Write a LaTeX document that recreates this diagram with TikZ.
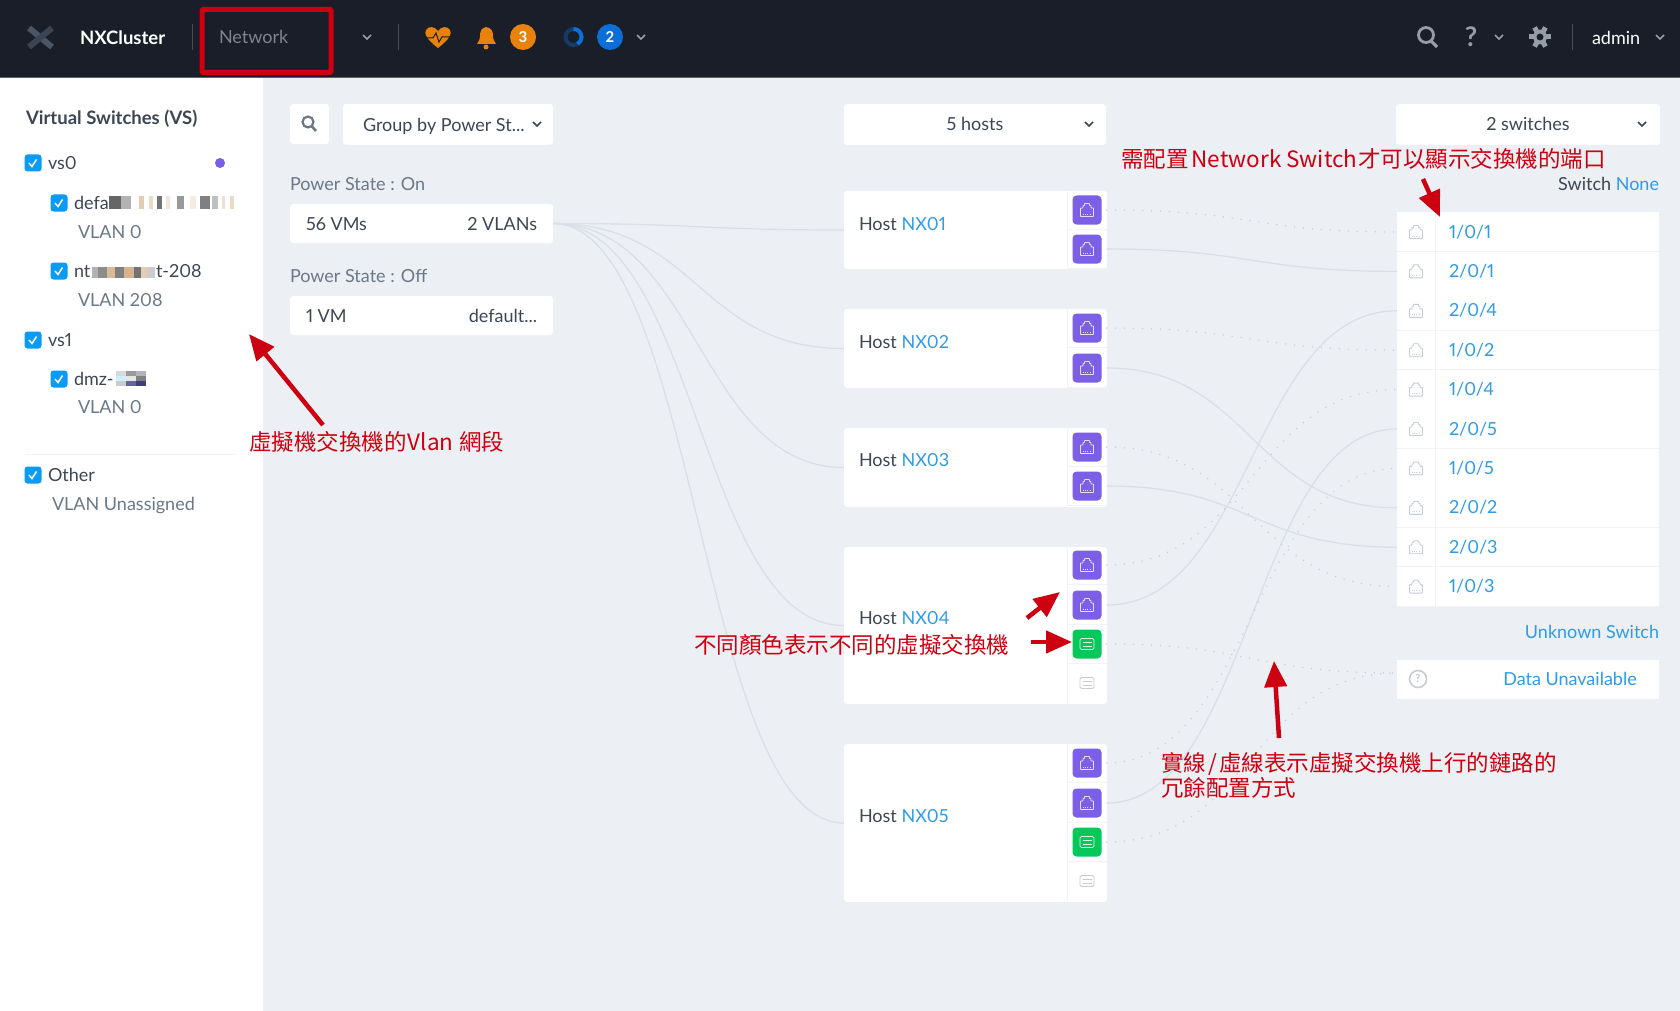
\documentclass[tikz,border=0pt]{standalone}
\usepackage{fontspec}
\usepackage{xcolor}
\setmainfont[Numbers=Proportional]{Lato}
\newfontfamily\cjkfont{Noto Sans CJK TC}
\usetikzlibrary{arrows.meta,calc}
\definecolor{barbg}{HTML}{1A1E29}
\definecolor{pagebg}{HTML}{ECEFF3}
\definecolor{txtdark}{HTML}{3D4654}
\definecolor{txtgrey}{HTML}{6B7888}
\definecolor{linkblue}{HTML}{2F9BE8}
\definecolor{boxblue}{HTML}{0A9BF5}
\definecolor{vspurple}{HTML}{7B5FE6}
\definecolor{vsgreen}{HTML}{05C85A}
\definecolor{noteRed}{HTML}{CC0010}
\definecolor{alertOrange}{HTML}{E8820C}
\definecolor{taskBlue}{HTML}{0A6FD8}
\definecolor{iconGrey}{HTML}{949DA8}
\definecolor{logoGrey}{HTML}{4A5566}
\definecolor{logoDark}{HTML}{3A4554}
\definecolor{linkGrey}{HTML}{DADEE6}
\definecolor{sepGrey}{HTML}{F1F3F6}
\definecolor{portGrey}{HTML}{C6CBD4}
\tikzset{
  lbl/.style={inner sep=0pt,outer sep=0pt,anchor=west,text height=14pt,text depth=2pt,
    font=\fontsize{18}{20}\selectfont,text=txtdark},
  lblgrey/.style={lbl,text=txtgrey},
  lblright/.style={lbl,anchor=east},
  panel/.style={fill=white,rounded corners=3pt,inner sep=0pt,outer sep=0pt},
  cell/.style={inner sep=0pt,outer sep=0pt,minimum width=39,minimum height=39},
  tile/.style={rounded corners=4pt,inner sep=0pt,outer sep=0pt,minimum width=29,minimum height=29},
  swrow/.style={fill=white,inner sep=0pt,outer sep=0pt,minimum width=262,minimum height=39.4},
  chkbox/.style={fill=boxblue,rounded corners=3pt,inner sep=0pt,minimum width=17,minimum height=17},
  sepline/.style={draw=sepGrey,line width=1pt},
  solidlink/.style={draw=linkGrey,line width=1.2pt},
  dotlink/.style={draw=portGrey,line width=1.5pt,line cap=round,dash pattern=on 0pt off 9pt},
  note/.style={inner sep=0pt,anchor=west,text=noteRed,align=left,
    font=\cjkfont\fontsize{22.5}{25}\selectfont},
  notearrow/.style={draw=noteRed,line width=4.5pt,-{Triangle[length=26pt,width=22pt]}}
}
\newcommand{\rjglyph}[3]{\draw[#3,line width=.9pt,rounded corners=.6pt] (#1,#2) ++(-6.5,6.5) -- ++(0,-8.5) -- ++(2.5,0) -- ++(0,-2.5) -- ++(1.5,0) -- ++(0,-2) -- ++(5,0) -- ++(0,2) -- ++(1.5,0) -- ++(0,2.5) -- ++(2.5,0) -- ++(0,8.5) -- cycle;
  \draw[#3,line width=.9pt,dash pattern=on 1pt off 1.2pt] (#1,#2) ++(-4,4) -- ++(8,0);}
\newcommand{\lineglyph}[3]{\draw[#3,line width=.9pt,rounded corners=1.5pt] (#1,#2) ++(-7,-5.5) rectangle ++(14,11);
  \draw[#3,line width=.9pt] (#1,#2) ++(-4.5,-2) -- ++(9,0) ++(-9,4) -- ++(9,0);}
\newcommand{\chevmark}[3]{\draw[#3,line width=1.5pt] (#1,#2) ++(-4,-2) -- ++(4,4) -- ++(4,-4);}
\begin{document}
\begin{tikzpicture}[x=1pt,y=-1pt]
  \useasboundingbox (0,0) rectangle (1680,1011);
  \fill[pagebg] (0,0) rectangle (1680,1011);
  \fill[white] (0,78) rectangle (263,1011);
  \fill[barbg] (0,0) rectangle (1680,77);
  \fill[black!60!pagebg] (0,77) rectangle (1680,78.5);

  \draw[line width=6pt,logoGrey] (29,28)--(52,47);
  \draw[line width=6pt,logoDark] (52,28)--(29,47);
  \node (brand) at (80,38.5) [lbl,text=white,font=\bfseries\fontsize{18.5}{20}\selectfont] {NXCluster};
  \draw[line width=1pt,white!20!barbg] (192,24)--(192,50);
  \node (netlbl) at (219,37.5) [lbl,text=iconGrey!85!black] {Network};
  \chevmark{367}{37}{iconGrey}
  \draw[line width=1pt,white!20!barbg] (398,24)--(398,50);
  \fill[alertOrange] (438,48) .. controls (426,39) and (424,33) .. (426,30) .. controls (428,26) and (435,26) .. (438,31) .. controls (441,26) and (448,26) .. (450,30) .. controls (452,33) and (450,39) .. (438,48);
  \draw[barbg,line width=1pt] (426,38)--(433,38)--(436,33)--(439,42)--(442,37)--(450,37);
  \fill[alertOrange] (486,27) .. controls (481,28) and (480,32) .. (480,36) .. controls (480,40) and (478,42) .. (477,44) -- (496,44) .. controls (495,42) and (493,40) .. (493,36) .. controls (493,32) and (492,28) .. (486,27);
  \fill[alertOrange] (486,47) circle (2.5);
  \node (alertnum) at (523,37) [circle,fill=alertOrange,minimum size=26,inner sep=0pt,text=white,font=\bfseries\fontsize{15}{18}\selectfont] {3};
  \draw[line width=4pt,taskBlue!35!barbg] (573.5,37) circle (8);
  \draw[line width=4pt,taskBlue] (573.5,29) arc (-90:60:8);
  \node (tasknum) at (610,37) [circle,fill=taskBlue,minimum size=26,inner sep=0pt,text=white,font=\bfseries\fontsize{15}{18}\selectfont] {2};
  \chevmark{641}{37}{iconGrey}
  \draw[iconGrey,line width=2.8pt] (1426,35) circle (7.5);
  \draw[iconGrey,line width=3.2pt] (1431,41)--(1437,47);
  \node (helpmark) at (1471,37) [iconGrey,font=\bfseries\fontsize{27}{27}\selectfont,inner sep=0pt] {?};
  \chevmark{1499}{37}{iconGrey}
  \foreach \a in {0,60,...,300} {\draw[iconGrey,line width=5pt] (1540,37) ++(\a:6)--++(\a:5);}
  \draw[iconGrey,line width=3.5pt] (1540,37) circle (5.5);
  \draw[line width=1pt,white!20!barbg] (1572,24)--(1572,50);
  \node (adminlbl) at (1592,38.5) [lbl,text=white] {admin};
  \chevmark{1660}{37}{iconGrey}
  \node (netmark) at (266.5,41) [draw=noteRed,line width=5pt,rounded corners=1pt,minimum width=129,minimum height=63,inner sep=0pt] {};

  \node (vstitle) at (26,119) [lbl,font=\bfseries\fontsize{18.5}{20}\selectfont] {Virtual Switches (VS)};
  \foreach \n/\x/\y in {vs0/33/163,def/59/203,ntm/59/271,vs1/33/340,dmz/59/379,oth/33/475} {
    \node (cb\n) at (\x,\y) [chkbox] {};
    \draw[white,line width=1.5pt] ($(cb\n)+(-4,0)$)--++(3,3.5)--++(4.5,-7);
  }
  \node (vs0lbl) at (48,164) [lbl] {vs0};
  \fill[vspurple] (220,163) circle (5);
  \node (deflbl) at (74,203) [lbl] {defa};
  \foreach \x/\w/\c in {109/12/black!60,121/10/black!30,139/5/brown!40,149/4/brown!30,157/5/black!55,166/4/brown!20,177/7/black!40,190/6/brown!15,200/10/black!50,212/6/black!25,222/3/brown!25,230/4/brown!30} {
    \fill[\c] (\x,196) rectangle ++(\w,13);
  }
  \node (vlandef) at (78,232) [lblgrey] {VLAN 0};
  \node (ntmlbl) at (74,271) [lbl] {nt};
  \foreach \x/\w/\c in {92/6/black!30,98/9/black!45,107/8/brown!55,115/9/black!50,124/10/brown!60,134/7/black!55,141/6/brown!40,147/8/black!20} {
    \fill[\c] (\x,267) rectangle ++(\w,11);
  }
  \node (ntmtail) at (156,271) [lbl] {t-208};
  \node (vlanntm) at (78,300) [lblgrey] {VLAN 208};
  \node (vs1lbl) at (48,340) [lbl] {vs1};
  \node (dmzlbl) at (74,379) [lbl] {dmz-};
  \foreach \x/\y/\c in {116/371/blue!10!black!15,126/371/black!40,136/371/blue!25!black!30,116/376/cyan!20,126/376/black!10,136/376/black!50,116/381/black!20,126/381/blue!30!black!60,136/381/blue!30!black!75} {
    \fill[\c] (\x,\y) rectangle ++(10,5);
  }
  \node (vlandmz) at (78,407) [lblgrey] {VLAN 0};
  \draw[sepline] (26,454)--(236,454);
  \node (othlbl) at (48,475) [lbl] {Other};
  \node (vlanoth) at (52,504) [lblgrey] {VLAN Unassigned};

  \node (srchbox) at (309.5,124) [panel,minimum width=39,minimum height=40] {};
  \draw[txtgrey,line width=2.2pt] (308,122) circle (5.5);
  \draw[txtgrey,line width=2.6pt] (312,126.5)--(316,131);
  \node (groupbox) at (448,124.5) [panel,minimum width=210,minimum height=41] {};
  \node (grouplbl) at (363,126) [lbl] {Group by Power St...};
  \chevmark{537}{124}{txtdark}
  \node (onlbl) at (290,184) [lblgrey] {Power State : On};
  \node (onbox) at (421.5,223.5) [panel,minimum width=263,minimum height=39] {};
  \node (vmsa) at (306,224) [lbl] {56 VMs};
  \node (vlana) at (537,224) [lblright] {2 VLANs};
  \node (offlbl) at (290,276) [lblgrey] {Power State : Off};
  \node (offbox) at (421.5,315.5) [panel,minimum width=263,minimum height=39] {};
  \node (vmsb) at (306,316) [lbl] {1 VM};
  \node (vlanb) at (537,316) [lblright] {default...};

  \node (hostsbox) at (975,124.5) [panel,minimum width=262,minimum height=41] {};
  \node (hostslbl) at (975,125) [lbl,anchor=center] {5 hosts};
  \chevmark{1089}{124}{txtdark}
  \node (swbox) at (1528,124.5) [panel,minimum width=264,minimum height=41] {};
  \node (swlbl) at (1528,125) [lbl,anchor=center] {2 switches};
  \chevmark{1642}{124}{txtdark}
  \node (swnone) at (1659,184) [lblright] {Switch \textcolor{linkblue}{None}};

  \foreach \n/\y/\h/\t in {1/230/78/224,2/348.5/79/342,3/467.5/79/460,4/625.5/157/618,5/823/158/816} {
    \node (h\n) at (975.5,\y) [panel,minimum width=263,minimum height=\h] {};
    \node (h\n lbl) at (859,\t) [lbl] {Host \textcolor{linkblue}{NX0\n}};
  }
  \foreach \n/\y in {h1a/210,h1b/249,h2a/328,h2b/368,h3a/447,h3b/486,h4a/565,h4b/605,h5a/763,h5b/803} {
    \node (\n) at (1087,\y) [cell] {};
    \draw[sepline] (\n.north west)--(\n.south west) (\n.south west)--(\n.south east);
    \node (\n t) at (\n) [tile,fill=vspurple] {};
    \rjglyph{1087}{\y}{white!80!vspurple}
  }
  \foreach \n/\y in {h4c/644,h5c/842} {
    \node (\n) at (1087,\y) [cell] {};
    \draw[sepline] (\n.north west)--(\n.south west) (\n.south west)--(\n.south east);
    \node (\n t) at (\n) [tile,fill=vsgreen] {};
    \lineglyph{1087}{\y}{white!85!vsgreen}
  }
  \foreach \n/\y in {h4d/683,h5d/881} {
    \node (\n) at (1087,\y) [cell] {};
    \draw[sepline] (\n.north west)--(\n.south west);
    \lineglyph{1087}{\y}{portGrey}
  }

  \foreach \n/\y/\lbl in {p101/232/{1/0/1},p201/271.4/{2/0/1},p204/310.8/{2/0/4},p102/350.2/{1/0/2},p104/389.6/{1/0/4},p205/429/{2/0/5},p105/468.4/{1/0/5},p202/507.8/{2/0/2},p203/547.2/{2/0/3},p103/586.6/{1/0/3}} {
    \node (\n) at (1528,\y) [swrow] {};
    \draw[sepline] (\n.south west)--(\n.south east);
    \draw[sepline] (1435,\y) ++(0,-19.7)--++(0,39.4);
    \rjglyph{1416}{\y}{portGrey}
    \node (\n lbl) at (1449,\y) [lbl,text=linkblue] {\lbl};
  }
  \node (unknown) at (1659,632) [lblright,text=linkblue] {Unknown Switch};
  \node (dataun) at (1528,679.5) [swrow] {};
  \coordinate (dataend) at (1397,673);
  \node (dataq) at (1418,679) [circle,draw=portGrey,line width=1.6pt,minimum size=17,inner sep=0pt,text=portGrey,font=\bfseries\fontsize{11}{12}\selectfont] {?};
  \node (datalbl) at (1570,679) [lbl,anchor=center,text=linkblue] {Data Unavailable};

  \foreach \n in {1,2,3,4,5} {
    \draw[solidlink] (onbox.east) .. controls +(145,0) and +(-145,0) .. (h\n.west);
  }
  \foreach \a/\b in {h1b/p201,h2b/p202,h3b/p203,h4b/p204,h5b/p205} {
    \draw[solidlink] (\a.east) .. controls +(145,0) and +(-145,0) .. (\b.west);
  }
  \foreach \a/\b in {h1a/p101,h2a/p102,h3a/p103,h4a/p104,h5a/p105} {
    \draw[dotlink] (\a.east) .. controls +(145,0) and +(-145,0) .. (\b.west);
  }
  \foreach \a in {h4c,h5c} {
    \draw[dotlink] (\a.east) .. controls +(145,0) and +(-145,0) .. (dataend);
  }

  \node (noteports) at (1121,159) [note] {需配置\hspace{3pt}Network Switch\hspace{1pt}才可以顯示交換機的端口};
  \node (notevlan) at (249,442) [note] {虛擬機交換機的\hspace{1pt}Vlan\hspace{1pt} 網段};
  \node (notecolor) at (694,645) [note] {不同顏色表示不同的虛擬交換機};
  \node (noteuplink) at (1161,775.5) [note] {實線\hspace{2pt}/\hspace{2pt}虛線表示虛擬交換機上行的鏈路的\\冗餘配置方式};
  \coordinate (ap1) at (1423,179);
  \coordinate (ap2) at (1440,217);
  \coordinate (av1) at (323,425);
  \coordinate (av2) at (249,334);
  \coordinate (ac1) at (1027,618);
  \coordinate (ac2) at (1060,592);
  \coordinate (ac3) at (1031,642);
  \coordinate (ac4) at (1072,642);
  \coordinate (au1) at (1279,738);
  \coordinate (au2) at (1274,661);
  \foreach \a/\b in {ap1/ap2,av1/av2,ac1/ac2,ac3/ac4,au1/au2} {
    \draw[notearrow] (\a)--(\b);
  }
\end{tikzpicture}
\end{document}
